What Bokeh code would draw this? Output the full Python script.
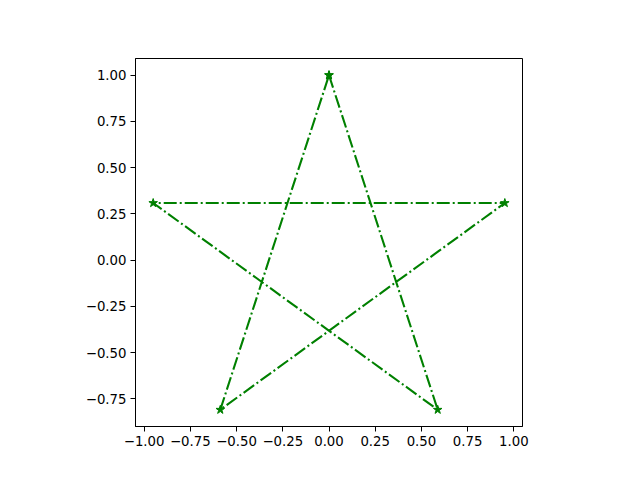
from bokeh.plotting import figure
from bokeh.models import FixedTicker, Range1d
from bokeh.embed import file_html
from bokeh.resources import INLINE

# pentagram vertices (closed path)
xs = [0.0, 0.588, -0.951, 0.951, -0.588, 0.0]
ys = [1.0, -0.809, 0.309, 0.309, -0.809, 1.0]

x_ticks = [-1.0, -0.75, -0.5, -0.25, 0.0, 0.25, 0.5, 0.75, 1.0]
y_ticks = [-0.75, -0.5, -0.25, 0.0, 0.25, 0.5, 0.75, 1.0]

def lab(v):
    s = f"{abs(v):.2f}"
    return ("\u2212" + s) if v < 0 else s

p = figure(width=624, height=464, output_backend="svg", toolbar_location=None,
           x_range=Range1d(-1.0466, 1.0466), y_range=Range1d(-0.8995, 1.0905),
           min_border_left=135, min_border_right=102, min_border_top=58, min_border_bottom=38)
p.background_fill_color = "white"
p.border_fill_color = "white"
p.outline_line_color = "black"
p.outline_line_alpha = 1.0
p.outline_line_width = 1
p.xgrid.visible = False
p.ygrid.visible = False

p.line(xs, ys, line_color="#008000", line_width=2.1, line_dash="13 3 2 3")
p.scatter(xs, ys, marker="star", size=9, fill_color="#008000", line_color="#008000")

for ax, ticks in ((p.xaxis[0], x_ticks), (p.yaxis[0], y_ticks)):
    ax.ticker = FixedTicker(ticks=ticks, minor_ticks=[])
    ax.major_label_overrides = {t: lab(t) for t in ticks}
    ax.major_label_text_font = "DejaVu Sans"
    ax.major_label_text_font_size = "13.3px"
    ax.major_label_text_color = "black"
    ax.major_tick_in = 0
    ax.major_tick_out = 5
    ax.minor_tick_in = 0
    ax.minor_tick_out = 0
    ax.axis_line_color = "black"
    ax.major_tick_line_color = "black"
    ax.major_label_standoff = 4

open("out.html", "w").write(file_html(p, INLINE))
